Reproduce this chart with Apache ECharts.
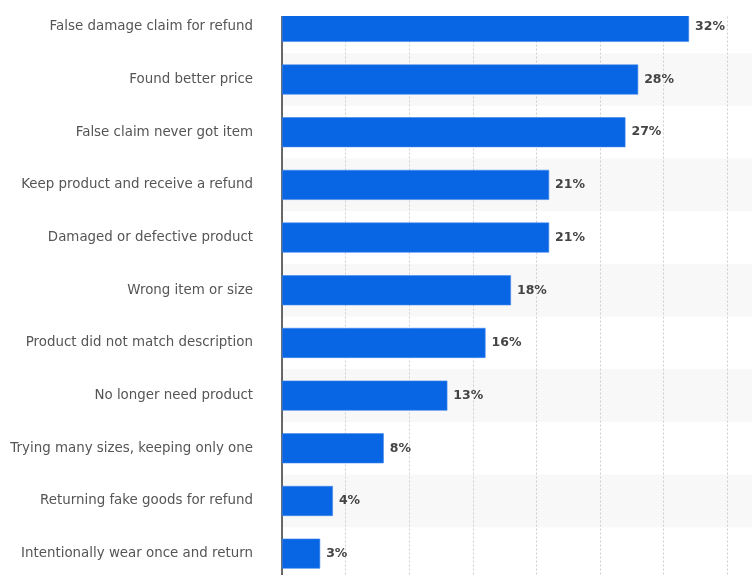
<!DOCTYPE html>
<html>
<head>
<meta charset="utf-8">
<script src="https://cdn.jsdelivr.net/npm/echarts@6/dist/echarts.min.js"></script>
<style>
  html, body { margin: 0; padding: 0; background: #fff; }
  #chart { width: 752px; height: 575px; }
</style>
</head>
<body>
<div id="chart"></div>
<script>
// Reasons given for returning products (share of respondents, %)
const categories = [
  'False damage claim for refund',
  'Found better price',
  'False claim never got item',
  'Keep product and receive a refund',
  'Damaged or defective product',
  'Wrong item or size',
  'Product did not match description',
  'No longer need product',
  'Trying many sizes, keeping only one',
  'Returning fake goods for refund',
  'Intentionally wear once and return'
];
const shares = [32, 28, 27, 21, 21, 18, 16, 13, 8, 4, 3];

const chart = echarts.init(document.getElementById('chart'), null, { renderer: 'canvas' });

chart.setOption({
  animation: false,
  grid: { left: 282, right: 0, top: 0.5, height: 579.5, outerBoundsMode: 'none', containLabel: false },
  xAxis: {
    type: 'value',
    min: 0,
    max: 36.95,
    interval: 5,
    axisLine: { show: false },
    axisTick: { show: false },
    axisLabel: { show: false },
    splitLine: { show: true, lineStyle: { color: '#cfcfcf', type: [2, 2], width: 1 } }
  },
  yAxis: {
    type: 'category',
    inverse: true,
    data: categories,
    axisLine: { show: true, lineStyle: { color: '#3a3a3a', width: 1.5 } },
    axisTick: { show: false },
    axisLabel: {
      margin: 29,
      color: '#555',
      fontFamily: 'DejaVu Sans',
      fontSize: 13.4,
      padding: [3, 0, 0, 0]
    },
    splitArea: { show: true, areaStyle: { color: ['rgba(255,255,255,0)', '#f8f8f8'] } }
  },
  series: [{
    type: 'bar',
    data: shares,
    barWidth: 30,
    itemStyle: { color: '#0866e5', borderColor: '#3f86ec', borderWidth: 0.6 },
    label: {
      show: true,
      position: 'right',
      distance: 6,
      formatter: '{c}%',
      color: '#444',
      fontFamily: 'DejaVu Sans',
      fontWeight: 600,
      fontSize: 12.5
    }
  }],
  graphic: [{
    type: 'rect',
    z: 100,
    shape: { x: 280, y: 0, width: 472, height: 16 },
    style: { fill: '#fff' }
  }]
});
</script>
</body>
</html>
